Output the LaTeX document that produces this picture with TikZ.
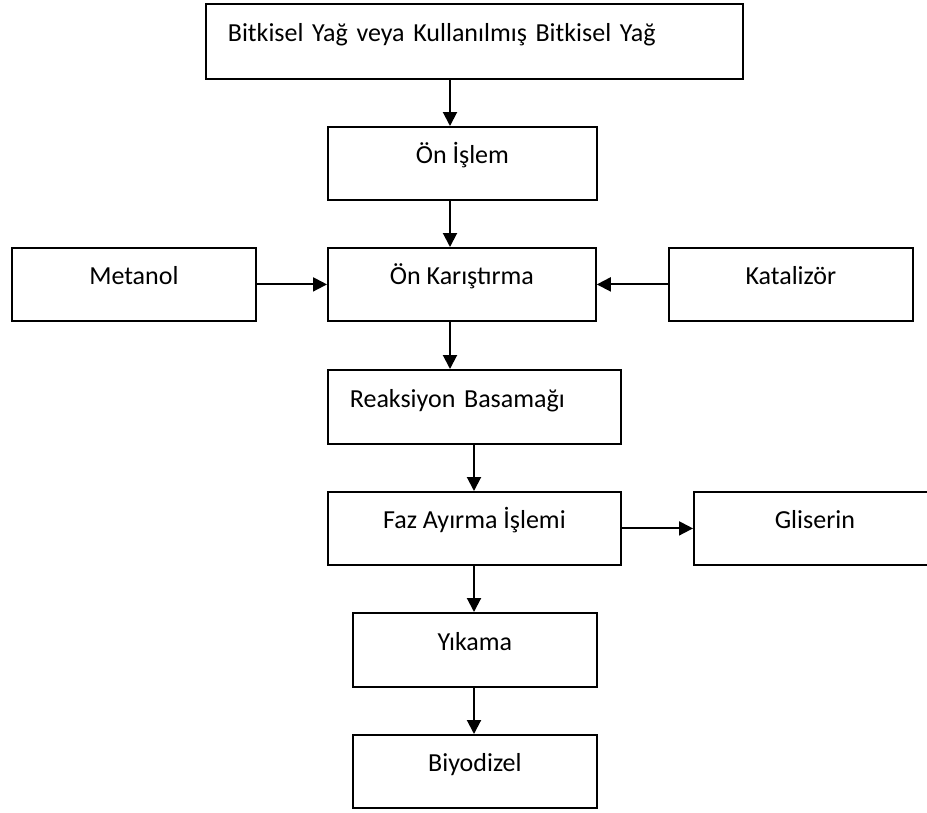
\documentclass[tikz,border=0pt]{standalone}
\usepackage{fontspec}
\setmainfont{Carlito}
\usetikzlibrary{arrows.meta}
\tikzset{
  box/.style={draw, line width=1.8pt, anchor=north west, inner xsep=0pt, inner ysep=0pt,
    text height=37pt, text depth=36pt, font=\fontsize{26}{30}\selectfont},
  leftbox/.style={box, inner xsep=22pt, align=left},
  flow/.style={line width=2pt, -{Triangle[length=14pt,width=14pt]}}
}
\begin{document}
\begin{tikzpicture}[x=1pt,y=-1pt]
            \useasboundingbox (0,0) rectangle (927,812);
            \coordinate (LeftAxis) at (450,0);
            \coordinate (RightAxis) at (474,0);

            \node[leftbox, text width=493pt, minimum height=75pt] (Yag) at (205,3) {Bitkisel Yağ veya Kullanılmış Bitkisel Yağ};
            \node[box, minimum width=269pt, minimum height=72pt] (OnIslem) at (327,126) {Ön İşlem};
            \node[box, minimum width=268pt, minimum height=73pt] (OnKaristirma) at (327,247) {Ön Karıştırma};
            \node[box, minimum width=244pt, minimum height=73pt] (Metanol) at (11,247) {Metanol};
            \node[box, minimum width=244pt, minimum height=73pt] (Katalizor) at (668,247) {Katalizör};
            \node[leftbox, text width=249pt, minimum height=74pt] (Reaksiyon) at (327,369) {Reaksiyon Basamağı};
            \node[box, minimum width=293pt, minimum height=73pt] (FazAyirma) at (327,491) {Faz Ayırma İşlemi};
            \node[box, minimum width=242pt, minimum height=73pt] (Gliserin) at (693,491) {Gliserin};
            \node[box, minimum width=244pt, minimum height=74pt] (Yikama) at (352,612) {Yıkama};
            \node[box, minimum width=244pt, minimum height=73pt] (Biyodizel) at (352,734) {Biyodizel};

            \draw[flow] (Yag.south -| LeftAxis)--(OnIslem.north -| LeftAxis);
            \draw[flow] (OnIslem.south -| LeftAxis)--(OnKaristirma.north -| LeftAxis);
            \draw[flow] (Metanol.east)--(OnKaristirma.west);
            \draw[flow] (Katalizor.west)--(OnKaristirma.east);
            \draw[flow] (OnKaristirma.south -| LeftAxis)--(Reaksiyon.north -| LeftAxis);
            \draw[flow] (Reaksiyon.south -| RightAxis)--(FazAyirma.north -| RightAxis);
            \draw[flow] (FazAyirma.east)--(Gliserin.west);
            \draw[flow] (FazAyirma.south -| RightAxis)--(Yikama.north -| RightAxis);
            \draw[flow] (Yikama.south -| RightAxis)--(Biyodizel.north -| RightAxis);
        \end{tikzpicture}
\end{document}
